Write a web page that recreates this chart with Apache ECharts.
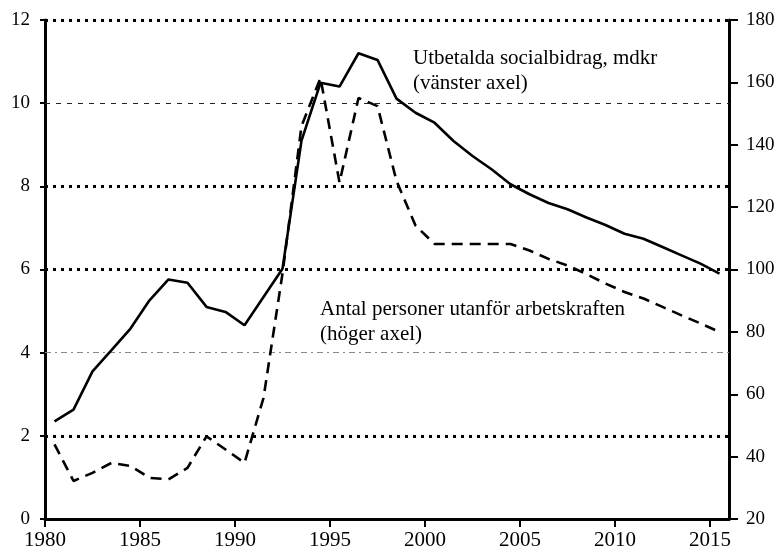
<!DOCTYPE html>
<html><head><meta charset="utf-8">
<script src="https://cdn.jsdelivr.net/npm/echarts@6/dist/echarts.min.js"></script>
<style>html,body{margin:0;padding:0;background:#fff}#c{width:784px;height:551px}</style>
</head><body><div id="c"></div>
<script>
var years = [1980,1981,1982,1983,1984,1985,1986,1987,1988,1989,1990,1991,1992,1993,1994,1995,1996,1997,1998,1999,2000,2001,2002,2003,2004,2005,2006,2007,2008,2009,2010,2011,2012,2013,2014,2015];
var socialbidrag = [2.35,2.63,3.55,4.06,4.58,5.26,5.76,5.68,5.10,4.98,4.66,5.34,6.02,9.1,10.49,10.40,11.2,11.04,10.11,9.77,9.53,9.09,8.73,8.41,8.05,7.81,7.60,7.45,7.25,7.07,6.86,6.74,6.54,6.34,6.14,5.90];
var utanfor = [43.9,32.2,34.8,38.0,37.0,33.2,32.7,36.4,46.5,42.3,38.0,58.8,98.7,146.0,161.4,127.9,155.0,152.4,128.4,114.1,108.2,108.2,108.2,108.2,108.2,106.1,103.4,101.3,98.5,95.5,92.8,90.7,88.0,85.3,82.7,80.0];
var leftTicks = {min:0, max:12, interval:2};
var rightTicks = {min:20, max:180, interval:20};
var xTicks = {min:1980, max:2016, interval:5};
var heavyGrid = [0,2,6,8,12];
var thinGrid = [10];
var grayGrid = [4];
var label1 = ["Utbetalda socialbidrag, mdkr","(vänster axel)"];
var label2 = ["Antal personer utanför arbetskraften","(höger axel)"];

var FONT = "Liberation Serif";
function pts(vals){ return years.map(function(y,i){ return [y+0.5, vals[i]]; }); }
var gridLines = [];
heavyGrid.forEach(function(v){ gridLines.push({yAxis:v, lineStyle:{color:'#000', width:3, type:[3,5]}}); });
thinGrid.forEach(function(v){ gridLines.push({yAxis:v, lineStyle:{color:'#222', width:1, type:[5,6]}}); });
grayGrid.forEach(function(v){ gridLines.push({yAxis:v, lineStyle:{color:'#888', width:1, type:[6,4,2,4]}}); });

var chart = echarts.init(document.getElementById('c'), null, {renderer:'canvas'});
chart.setOption({
  animation:false,
  backgroundColor:'#fff',
  grid:{left:45, right:55, top:20, bottom:29},
  xAxis:{type:'value', min:xTicks.min, max:xTicks.max, interval:xTicks.interval,
    axisLine:{show:true, onZero:false, lineStyle:{color:'#000', width:3}},
    axisTick:{show:true, length:8, lineStyle:{color:'#000', width:2}},
    axisLabel:{fontFamily:FONT, fontSize:21, color:'#000', margin:11, showMaxLabel:false,
      formatter:function(v){ return v%5===0 ? String(v) : ''; }},
    splitLine:{show:false}},
  yAxis:[
    {type:'value', min:leftTicks.min, max:leftTicks.max, interval:leftTicks.interval, position:'left',
      axisLine:{show:true, lineStyle:{color:'#000', width:3}},
      axisTick:{show:true, length:5, lineStyle:{color:'#000', width:2}},
      axisLabel:{fontFamily:FONT, fontSize:19, color:'#000', margin:15},
      splitLine:{show:false}},
    {type:'value', min:rightTicks.min, max:rightTicks.max, interval:rightTicks.interval, position:'right',
      axisLine:{show:true, lineStyle:{color:'#000', width:3}},
      axisTick:{show:true, length:9, lineStyle:{color:'#000', width:2}},
      axisLabel:{fontFamily:FONT, fontSize:19, color:'#000', margin:17},
      splitLine:{show:false}}
  ],
  series:[
    {type:'line', yAxisIndex:0, data:pts(socialbidrag), symbol:'none', z:3,
      lineStyle:{color:'#000', width:2.6, type:'solid'},
      markLine:{silent:true, symbol:['none','none'], label:{show:false}, data:gridLines, z:1}},
    {type:'line', yAxisIndex:1, data:pts(utanfor), symbol:'none', z:3,
      lineStyle:{color:'#000', width:2.6, type:[11,7]}}
  ],
  graphic:[
    {type:'text', left:413, top:46, style:{text:label1.join('\n'), font:'21px "Liberation Serif"', fill:'#000', lineHeight:25}},
    {type:'text', left:320, top:297, style:{text:label2.join('\n'), font:'21px "Liberation Serif"', fill:'#000', lineHeight:25}}
  ]
});
</script></body></html>
